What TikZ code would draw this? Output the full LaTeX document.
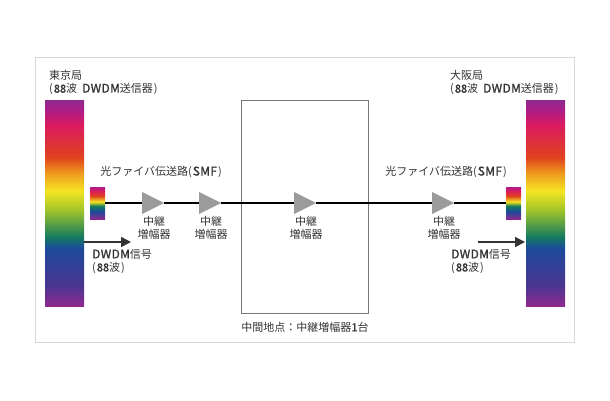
\documentclass[tikz,border=0pt]{standalone}
\usepackage{fontspec}
\setmainfont{Noto Sans CJK JP}
\newfontfamily\semifont[FakeBold=1.2,LetterSpace=3]{Noto Sans CJK JP}
\newfontfamily\digitfont[FakeBold=1.2]{Noto Sans CJK JP}
\usetikzlibrary{positioning, shapes.geometric, arrows.meta}

\definecolor{labelgray}{HTML}{333333}
\definecolor{framegray}{HTML}{D8D8D8}
\definecolor{boxgray}{HTML}{777777}
\definecolor{ampgray}{HTML}{9B9B9B}
\definecolor{specpurple}{HTML}{8E2A8E}
\definecolor{specviolet}{HTML}{4A3590}
\definecolor{specblue}{HTML}{1C4A9C}
\definecolor{specgreen}{HTML}{137A5E}
\definecolor{speclime}{HTML}{A6C728}
\definecolor{specyellow}{HTML}{F4E423}
\definecolor{specorange}{HTML}{EE9A1E}
\definecolor{specred}{HTML}{E0431E}
\definecolor{speccrimson}{HTML}{DA1B60}
\definecolor{specmagenta}{HTML}{AC1C88}
\pgfdeclareverticalshading{spectrum}{100bp}{
    color(0bp)=(specpurple);
    color(25bp)=(specpurple);
    color(30bp)=(specviolet);
    color(39bp)=(specblue);
    color(41.75bp)=(specgreen);
    color(48.5bp)=(speclime);
    color(53bp)=(specyellow);
    color(57.25bp)=(specorange);
    color(61bp)=(specred);
    color(69bp)=(speccrimson);
    color(72.5bp)=(specmagenta);
    color(75bp)=(specpurple);
    color(100bp)=(specpurple)}
\pgfdeclareverticalshading{minispectrum}{100bp}{
    color(0bp)=(specpurple);
    color(25bp)=(specpurple);
    color(36.5bp)=(specblue);
    color(45bp)=(specgreen);
    color(52bp)=(specyellow);
    color(61bp)=(specred);
    color(69bp)=(speccrimson);
    color(75bp)=(specmagenta);
    color(100bp)=(specmagenta)}
\newcommand{\latin}[1]{{\semifont\fontsize{12pt}{13pt}\selectfont #1}}
\newcommand{\digits}[1]{{\digitfont #1}}
\newcommand{\opening}{(\kern1pt}
\newcommand{\closing}{\kern1pt)}

\begin{document}
\begin{tikzpicture}[x=1pt, y=-1pt, node distance=57pt, on grid]
    \tikzstyle{panel} = [rectangle, inner sep=0pt, outer sep=0pt]
    \tikzstyle{specbar} = [panel, minimum width=39pt, minimum height=206pt, shading=spectrum]
    \tikzstyle{minibar} = [panel, minimum width=15pt, minimum height=32pt, shading=minispectrum]
    \tikzstyle{amp} = [isosceles triangle, isosceles triangle stretches, minimum width=22pt, minimum height=22pt, inner sep=0pt, outer sep=0pt, fill=ampgray]
    \tikzstyle{caption} = [inner sep=0pt, text=labelgray, font=\fontsize{11pt}{13pt}\selectfont]
    \tikzstyle{ampname} = [caption, align=center, below=25pt of #1, xshift=5pt]
    \tikzstyle{fiber} = [line width=1.9pt, black]
    \tikzstyle{signal} = [line width=1.5pt, labelgray, -{Triangle[length=10pt, width=10pt]}]

    \useasboundingbox (0,0) rectangle (610,400);

    \node (frame) [panel, draw=framegray, minimum width=538.5pt, minimum height=285pt] at (304.75,199.5) {};
    \node (midbox) [panel, draw=boxgray, minimum width=127pt, minimum height=213pt] at (304.5,206.5) {};

    \node (tokyo) [specbar] at (64.5,203) {};
    \node (osaka) [specbar] at (545.5,203) {};
    \node (txleft) [minibar] at (97.5,203) {};
    \node (txright) [minibar] at (513.5,203) {};

    \node (amp1) [amp] at (149,203) {};
    \node (amp2) [amp, right=57pt of amp1] {};
    \node (amp3) [amp, right=95pt of amp2] {};
    \node (amp4) [amp, right=138pt of amp3] {};

    \node (name1) [ampname=amp1] {中継\\増幅器};
    \node (name2) [ampname=amp2] {中継\\増幅器};
    \node (name3) [ampname=amp3] {中継\\増幅器};
    \node (name4) [ampname=amp4] {中継\\増幅器};

    \node (tokyolabel) [caption, align=left, anchor=south west] at (49,95) {東京局\\\opening\digits{88}波\hspace{5pt}\latin{DWDM}送信器\closing};
    \node (osakalabel) [caption, align=left, anchor=south west] at (450,95) {大阪局\\\opening\digits{88}波\hspace{5pt}\latin{DWDM}送信器\closing};
    \node (smfleft) [caption] at (161,172) {光ファイバ伝送路\opening\latin{SMF}\closing};
    \node (smfright) [caption] at (446,172) {光ファイバ伝送路\opening\latin{SMF}\closing};
    \node (sigleft) [caption, align=left, anchor=north west] at (92,249) {\latin{DWDM}信号\\\opening\digits{88}波\closing};
    \node (sigright) [caption, align=left, anchor=north west] at (451,249) {\latin{DWDM}信号\\\opening\digits{88}波\closing};
    \node (midlabel) [caption] at (305,327) {中間地点：中継増幅器\digits{1}台};

    \coordinate (sigstart) at (84,242);
    \coordinate (sigend) at (131,242);
    \coordinate (retstart) at (478,242);
    \coordinate (retend) at (525,242);

    \draw [fiber] (txleft) -- (amp1) -- (amp2) -- (amp3) -- (amp4) -- (txright);
    \draw [signal] (sigstart) -- (sigend);
    \draw [signal] (retstart) -- (retend);
\end{tikzpicture}
\end{document}
